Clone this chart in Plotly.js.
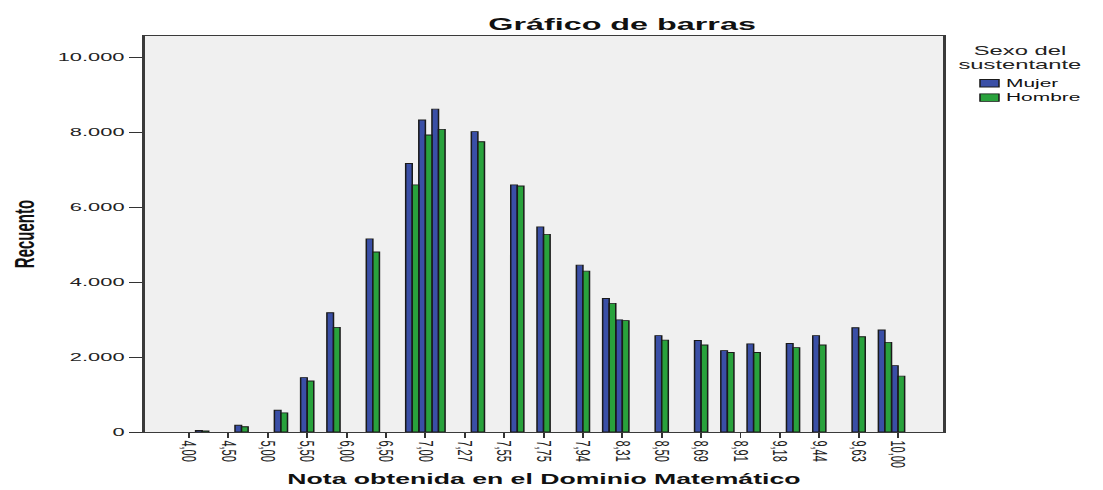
<!DOCTYPE html>
<html>
<head>
<meta charset="utf-8">
<script src="https://cdn.plot.ly/plotly-3.0.1.min.js"></script>
<style>
  html, body { margin: 0; padding: 0; background: #ffffff; overflow: hidden; }
  #chart { width: 580px; height: 490px; transform: scaleX(1.9017); transform-origin: 0 0; }
</style>
</head>
<body>
<div id="chart"></div>
<script>
// Categories of "Nota obtenida en el Dominio Matemático" (only every third one is labelled in the original)
const categories = [
  '4,00','','','4,50','','','5,00','','','5,50','','','6,00','','','6,50','','',
  '7,00','','','7,27','','','7,55','','','7,75','','','7,94','','','8,31','','',
  '8,50','','','8,69','','','8,91','','','9,18','','','9,44','','','9,63','','',
  '10,00'
];

// Recuento per category (null = no bar)
const mujer = [
  null, 40, null, null, 180, null, null, 580, null, 1450, null, 3180, null, null, 5150, null, null,
  7160, 8320, 8610, null, null, 8010, null, null, 6590, null, 5470, null, null, 4450, null,
  3560, 2990, null, null, 2570, null, null, 2440, null, 2170, null, 2350, null, null, 2360, null,
  2570, null, null, 2780, null, 2720, 1770
];
const hombre = [
  null, 30, null, null, 140, null, null, 510, null, 1360, null, 2790, null, null, 4800, null, null,
  6590, 7920, 8070, null, null, 7740, null, null, 6560, null, 5270, null, null, 4290, null,
  3430, 2970, null, null, 2450, null, null, 2320, null, 2120, null, 2120, null, null, 2250, null,
  2320, null, null, 2540, null, 2390, 1490
];

const seriesNames = ['Mujer', 'Hombre'];
const legendTitle = ['Sexo del', 'sustentante'];
const yTicks = [0, 2000, 4000, 6000, 8000, 10000];

const colors = ['#3a4fa6', '#29a23c'];
const outline = '#1a1a1a';

const xPos = categories.map((_, i) => i);
const tickVals = xPos.filter(i => categories[i] !== '');
const tickText = tickVals.map(i => categories[i]);

const FONT = 'Liberation Sans, Arial, Helvetica, sans-serif';

const traces = [mujer, hombre].map((vals, k) => ({
  type: 'bar', name: seriesNames[k], x: xPos, y: vals,
  marker: { color: colors[k], line: { color: outline, width: 0.8 } }
}));

// Legend drawn to match the original SPSS layout (square swatches, centred two-line title)
const legendShapes = [
  { y0: 0.8712, y1: 0.8902 },
  { y0: 0.8350, y1: 0.8540 }
].map((r, k) => ({
  type: 'rect', xref: 'paper', yref: 'paper',
  x0: 1.046, x1: 1.0698, y0: r.y0, y1: r.y1,
  fillcolor: colors[k], line: { color: outline, width: 0.8 }, layer: 'above'
}));
const legendAnnotations = [
  { text: legendTitle[0], x: 1.0962, y: 0.9621, xanchor: 'center', size: 12.5, color: '#222' },
  { text: legendTitle[1], x: 1.0962, y: 0.9280, xanchor: 'center', size: 12.5, color: '#222' },
  { text: seriesNames[0], x: 1.0731, y: 0.8806, xanchor: 'left', size: 11, color: '#111' },
  { text: seriesNames[1], x: 1.0731, y: 0.8460, xanchor: 'left', size: 11, color: '#111' }
].map(a => ({
  xref: 'paper', yref: 'paper', x: a.x, y: a.y, xanchor: a.xanchor, yanchor: 'middle',
  text: a.text, showarrow: false, font: { family: FONT, size: a.size, color: a.color }
}));

const layout = {
  width: 580, height: 490,
  margin: { l: 76, r: 84, t: 36, b: 58 },
  paper_bgcolor: '#ffffff',
  plot_bgcolor: '#f0f0f0',
  separators: ',.',
  barmode: 'group',
  bargap: 0,
  bargroupgap: 0,
  font: { family: FONT, size: 11, color: '#222' },
  title: {
    text: 'Gráfico de barras',
    font: { family: FONT, size: 17, weight: 'bold', color: '#111' },
    xref: 'container', x: 0.564, xanchor: 'center',
    yref: 'container', y: 0.951, yanchor: 'middle'
  },
  xaxis: {
    type: 'linear',
    range: [-3.39, 57.44],
    tickmode: 'array', tickvals: tickVals, ticktext: tickText,
    tickangle: 90,
    ticks: 'outside', ticklen: 5, tickcolor: '#333', tickwidth: 1,
    tickfont: { family: FONT, size: 11, color: '#222' },
    showgrid: false, zeroline: false,
    showline: true, mirror: true, linecolor: '#3a3a3a', linewidth: 1.2,
    automargin: false,
    title: { text: 'Nota obtenida en el Dominio Matemático', font: { family: FONT, size: 14, weight: 'bold', color: '#111' } }
  },
  yaxis: {
    range: [0, 10560],
    tickmode: 'array', tickvals: yTicks,
    tickformat: ',d',
    ticks: 'outside', ticklen: 7, tickcolor: '#333', tickwidth: 1,
    tickfont: { family: FONT, size: 11.5, color: '#222' },
    showgrid: false, zeroline: false,
    showline: true, mirror: true, linecolor: '#3a3a3a', linewidth: 1.2,
    automargin: true,
    title: { text: 'Recuento', font: { family: FONT, size: 15, weight: 'bold', color: '#111' }, standoff: 8 }
  },
  showlegend: false,
  shapes: legendShapes,
  annotations: legendAnnotations
};

Plotly.newPlot('chart', traces, layout, { displayModeBar: false, staticPlot: true });
</script>
</body>
</html>
